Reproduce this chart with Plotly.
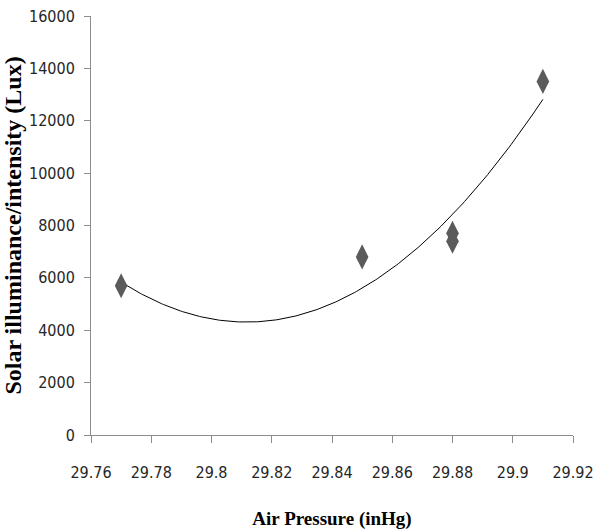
import numpy as np
import plotly.graph_objects as go

air_pressure = [29.77, 29.85, 29.88, 29.88, 29.91]
illuminance = [5700, 6800, 7700, 7400, 13500]

x_ticks = [29.76, 29.78, 29.80, 29.82, 29.84, 29.86, 29.88, 29.90, 29.92]
x_tick_labels = ["29.76", "29.78", "29.8", "29.82", "29.84", "29.86", "29.88", "29.9", "29.92"]
y_ticks = [0, 2000, 4000, 6000, 8000, 10000, 12000, 14000, 16000]
y_tick_labels = ["0", "2000", "4000", "6000", "8000", "10000", "12000", "14000", "16000"]

# polynomial (order 2) trendline fitted to the data
coef = np.polyfit(air_pressure, illuminance, 2)
xs = np.linspace(min(air_pressure), max(air_pressure), 200)
ys = np.polyval(coef, xs)

fig = go.Figure()
fig.add_trace(go.Scatter(x=xs, y=ys, mode="lines",
                         line=dict(color="black", width=1), hoverinfo="skip"))
fig.add_trace(go.Scatter(x=air_pressure, y=illuminance, mode="markers",
                         marker=dict(symbol="diamond-tall", size=18, color="#5b5b5b",
                                     line=dict(width=0))))

tick_font = dict(family="DejaVu Sans Condensed, Liberation Sans, sans-serif", size=16, color="#262626")

fig.update_layout(
    width=593, height=531,
    margin=dict(l=91, r=20, t=16, b=96),
    paper_bgcolor="white", plot_bgcolor="white",
    showlegend=False,
    xaxis=dict(range=[29.76, 29.92], tickvals=x_ticks, ticktext=x_tick_labels,
               showgrid=False, zeroline=False, showline=True, linecolor="#8c8c8c",
               linewidth=1, ticks="outside", ticklen=7, tickcolor="#8c8c8c",
               tickfont=tick_font, ticklabelstandoff=16, ticklabeloverflow="allow",
               automargin=False,
               title=dict(text="<b>Air Pressure (inHg)</b>",
                          font=dict(family="Liberation Serif, serif", size=19, color="black"),
                          standoff=30)),
    yaxis=dict(range=[0, 16000], tickvals=y_ticks, ticktext=y_tick_labels,
               showgrid=False, zeroline=False, showline=True, linecolor="#8c8c8c",
               linewidth=1, ticks="outside", ticklen=6, tickcolor="#8c8c8c",
               tickfont=tick_font, ticklabelstandoff=6, automargin=False,
               title=dict(text="<b>Solar illuminance/intensity (Lux)</b>",
                          font=dict(family="Liberation Serif, serif", size=24, color="black"),
                          standoff=2)),
)

fig.write_html("out.html")
